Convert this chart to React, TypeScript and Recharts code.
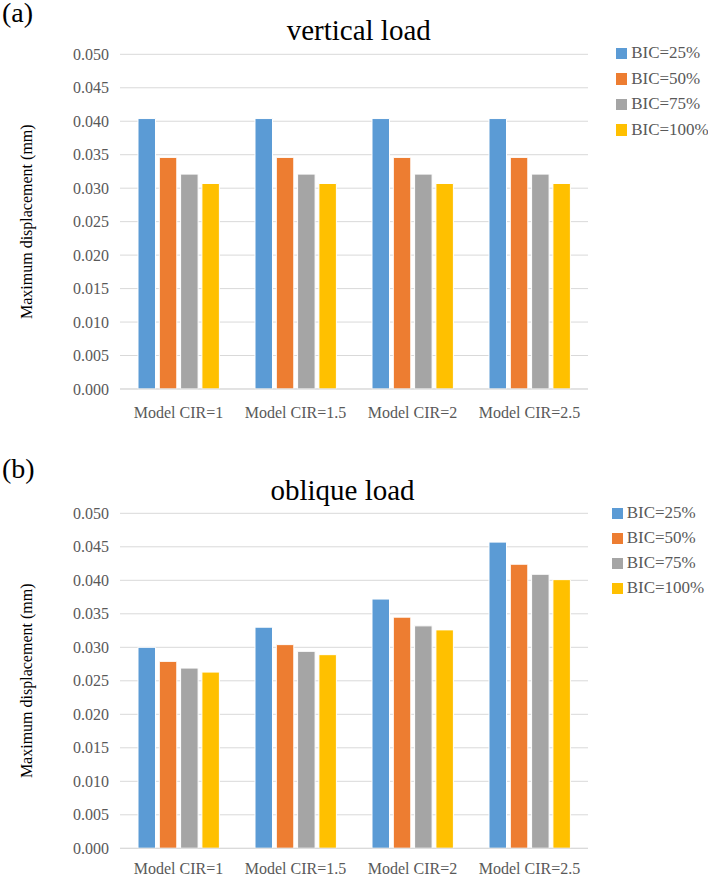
import React from 'react';
import { BarChart, Bar, XAxis, YAxis, CartesianGrid, Legend } from 'recharts';

const categories = ['Model CIR=1', 'Model CIR=1.5', 'Model CIR=2', 'Model CIR=2.5'];
const seriesNames = ['BIC=25%', 'BIC=50%', 'BIC=75%', 'BIC=100%'];
const seriesColors = ['#5B9BD5', '#ED7D31', '#A5A5A5', '#FFC000'];
const yTicks = [0, 0.005, 0.01, 0.015, 0.02, 0.025, 0.03, 0.035, 0.04, 0.045, 0.05];

// (a) vertical load
const verticalBic25 = [0.0404, 0.0404, 0.0404, 0.0404];
const verticalBic50 = [0.0346, 0.0346, 0.0346, 0.0346];
const verticalBic75 = [0.0321, 0.0321, 0.0321, 0.0321];
const verticalBic100 = [0.0307, 0.0307, 0.0307, 0.0307];

// (b) oblique load
const obliqueBic25 = [0.03, 0.033, 0.0372, 0.0457];
const obliqueBic50 = [0.0279, 0.0304, 0.0345, 0.0424];
const obliqueBic75 = [0.0269, 0.0294, 0.0332, 0.0409];
const obliqueBic100 = [0.0263, 0.0289, 0.0326, 0.0401];

const keys = ['s0', 's1', 's2', 's3'];

function buildRows(series: number[][]) {
  return categories.map((c, i) => {
    const row: Record<string, any> = { category: c };
    series.forEach((s, j) => {
      row[keys[j]] = s[i];
    });
    return row;
  });
}

const verticalRows = buildRows([verticalBic25, verticalBic50, verticalBic75, verticalBic100]);
const obliqueRows = buildRows([obliqueBic25, obliqueBic50, obliqueBic75, obliqueBic100]);

const FONT = '"Liberation Serif", "Times New Roman", serif';
const GRAY_TEXT = '#595959';
const GRID = '#D9D9D9';

type PanelProps = {
  rows: any[];
  top: number;
  height: number;
  marginTop: number;
  marginBottom: number;
  xAxisHeight: number;
  xTickMargin: number;
  title: string;
  titleX: number;
  titleY: number;
  letter: string;
  letterY: number;
  legendLeft: number;
  legendTop: number;
  legendRow: number;
  legendSquare: number;
  yLabelY: number;
};

function Panel(p: PanelProps) {
  const renderLegend = (props: any) => {
    const payload = [...(props.payload || [])].sort(
      (a: any, b: any) => seriesNames.indexOf(a.value) - seriesNames.indexOf(b.value)
    );
    return (
      <div style={{ fontFamily: FONT, fontSize: 17, color: GRAY_TEXT }}>
        {payload.map((item: any, i: number) => (
          <div
            key={i}
            style={{ display: 'flex', alignItems: 'center', height: p.legendRow, whiteSpace: 'nowrap' }}
          >
            <span
              style={{
                display: 'inline-block',
                width: p.legendSquare,
                height: p.legendSquare,
                background: item.color,
                marginRight: 4,
              }}
            />
            <span>{item.value}</span>
          </div>
        ))}
      </div>
    );
  };

  return (
    <div style={{ position: 'absolute', left: 0, top: p.top, width: 708, height: p.height, fontFamily: FONT }}>
      <BarChart
        width={708}
        height={p.height}
        data={p.rows}
        margin={{ top: p.marginTop, right: 120, bottom: p.marginBottom, left: 0 }}
        barGap={3.8}
        barSize={17.5}
      >
        <CartesianGrid vertical={false} stroke={GRID} strokeWidth={1} />
        <XAxis
          dataKey="category"
          height={p.xAxisHeight}
          axisLine={{ stroke: GRID, strokeWidth: 1 }}
          tickLine={false}
          tickSize={6}
          tickMargin={p.xTickMargin}
          tick={{ fill: GRAY_TEXT, fontSize: 16, fontFamily: FONT }}
          interval={0}
        />
        <YAxis
          width={120}
          domain={[0, 0.05]}
          ticks={yTicks}
          axisLine={false}
          tickLine={false}
          tickSize={6}
          tickMargin={5}
          tickFormatter={(v: number) => v.toFixed(3)}
          tick={{ fill: GRAY_TEXT, fontSize: 16, fontFamily: FONT }}
        />
        <Legend
          layout="vertical"
          align="center"
          verticalAlign="middle"
          content={renderLegend}
          wrapperStyle={{ left: p.legendLeft, top: p.legendTop, width: 100, height: 'auto' }}
        />
        {keys.map((k, j) => (
          <Bar
            key={k}
            dataKey={k}
            name={seriesNames[j]}
            fill={seriesColors[j]}
            stroke="#ffffff"
            strokeWidth={1}
            isAnimationActive={false}
          />
        ))}
        <text x={p.titleX} y={p.titleY} textAnchor="middle" fontFamily={FONT} fontSize={29} fill="#000">
          {p.title}
        </text>
        <text x={2} y={p.letterY} fontFamily={FONT} fontSize={28} fill="#000">
          {p.letter}
        </text>
        <text
          transform={`translate(31.5, ${p.yLabelY}) rotate(-90)`}
          textAnchor="middle"
          fontFamily={FONT}
          fontSize={16}
          fill="#000"
        >
          Maximum displacement (mm)
        </text>
      </BarChart>
    </div>
  );
}

export default function App() {
  return (
    <div style={{ position: 'absolute', left: 0, top: 0, width: 708, height: 876, background: '#fff' }}>
      <Panel
        rows={verticalRows}
        top={0}
        height={440}
        marginTop={54.3}
        marginBottom={21}
        xAxisHeight={30}
        xTickMargin={12}
        title="vertical load"
        titleX={358.7}
        titleY={39.5}
        letter="(a)"
        letterY={22}
        legendLeft={615.7}
        legendTop={40.5}
        legendRow={25.6}
        legendSquare={11.5}
        yLabelY={221.7}
      />
      <Panel
        rows={obliqueRows}
        top={440}
        height={436}
        marginTop={73.3}
        marginBottom={0.7}
        xAxisHeight={27}
        xTickMargin={8.6}
        title="oblique load"
        titleX={342.5}
        titleY={60}
        letter="(b)"
        letterY={38}
        legendLeft={611.7}
        legendTop={60.8}
        legendRow={25}
        legendSquare={11}
        yLabelY={240.8}
      />
    </div>
  );
}
